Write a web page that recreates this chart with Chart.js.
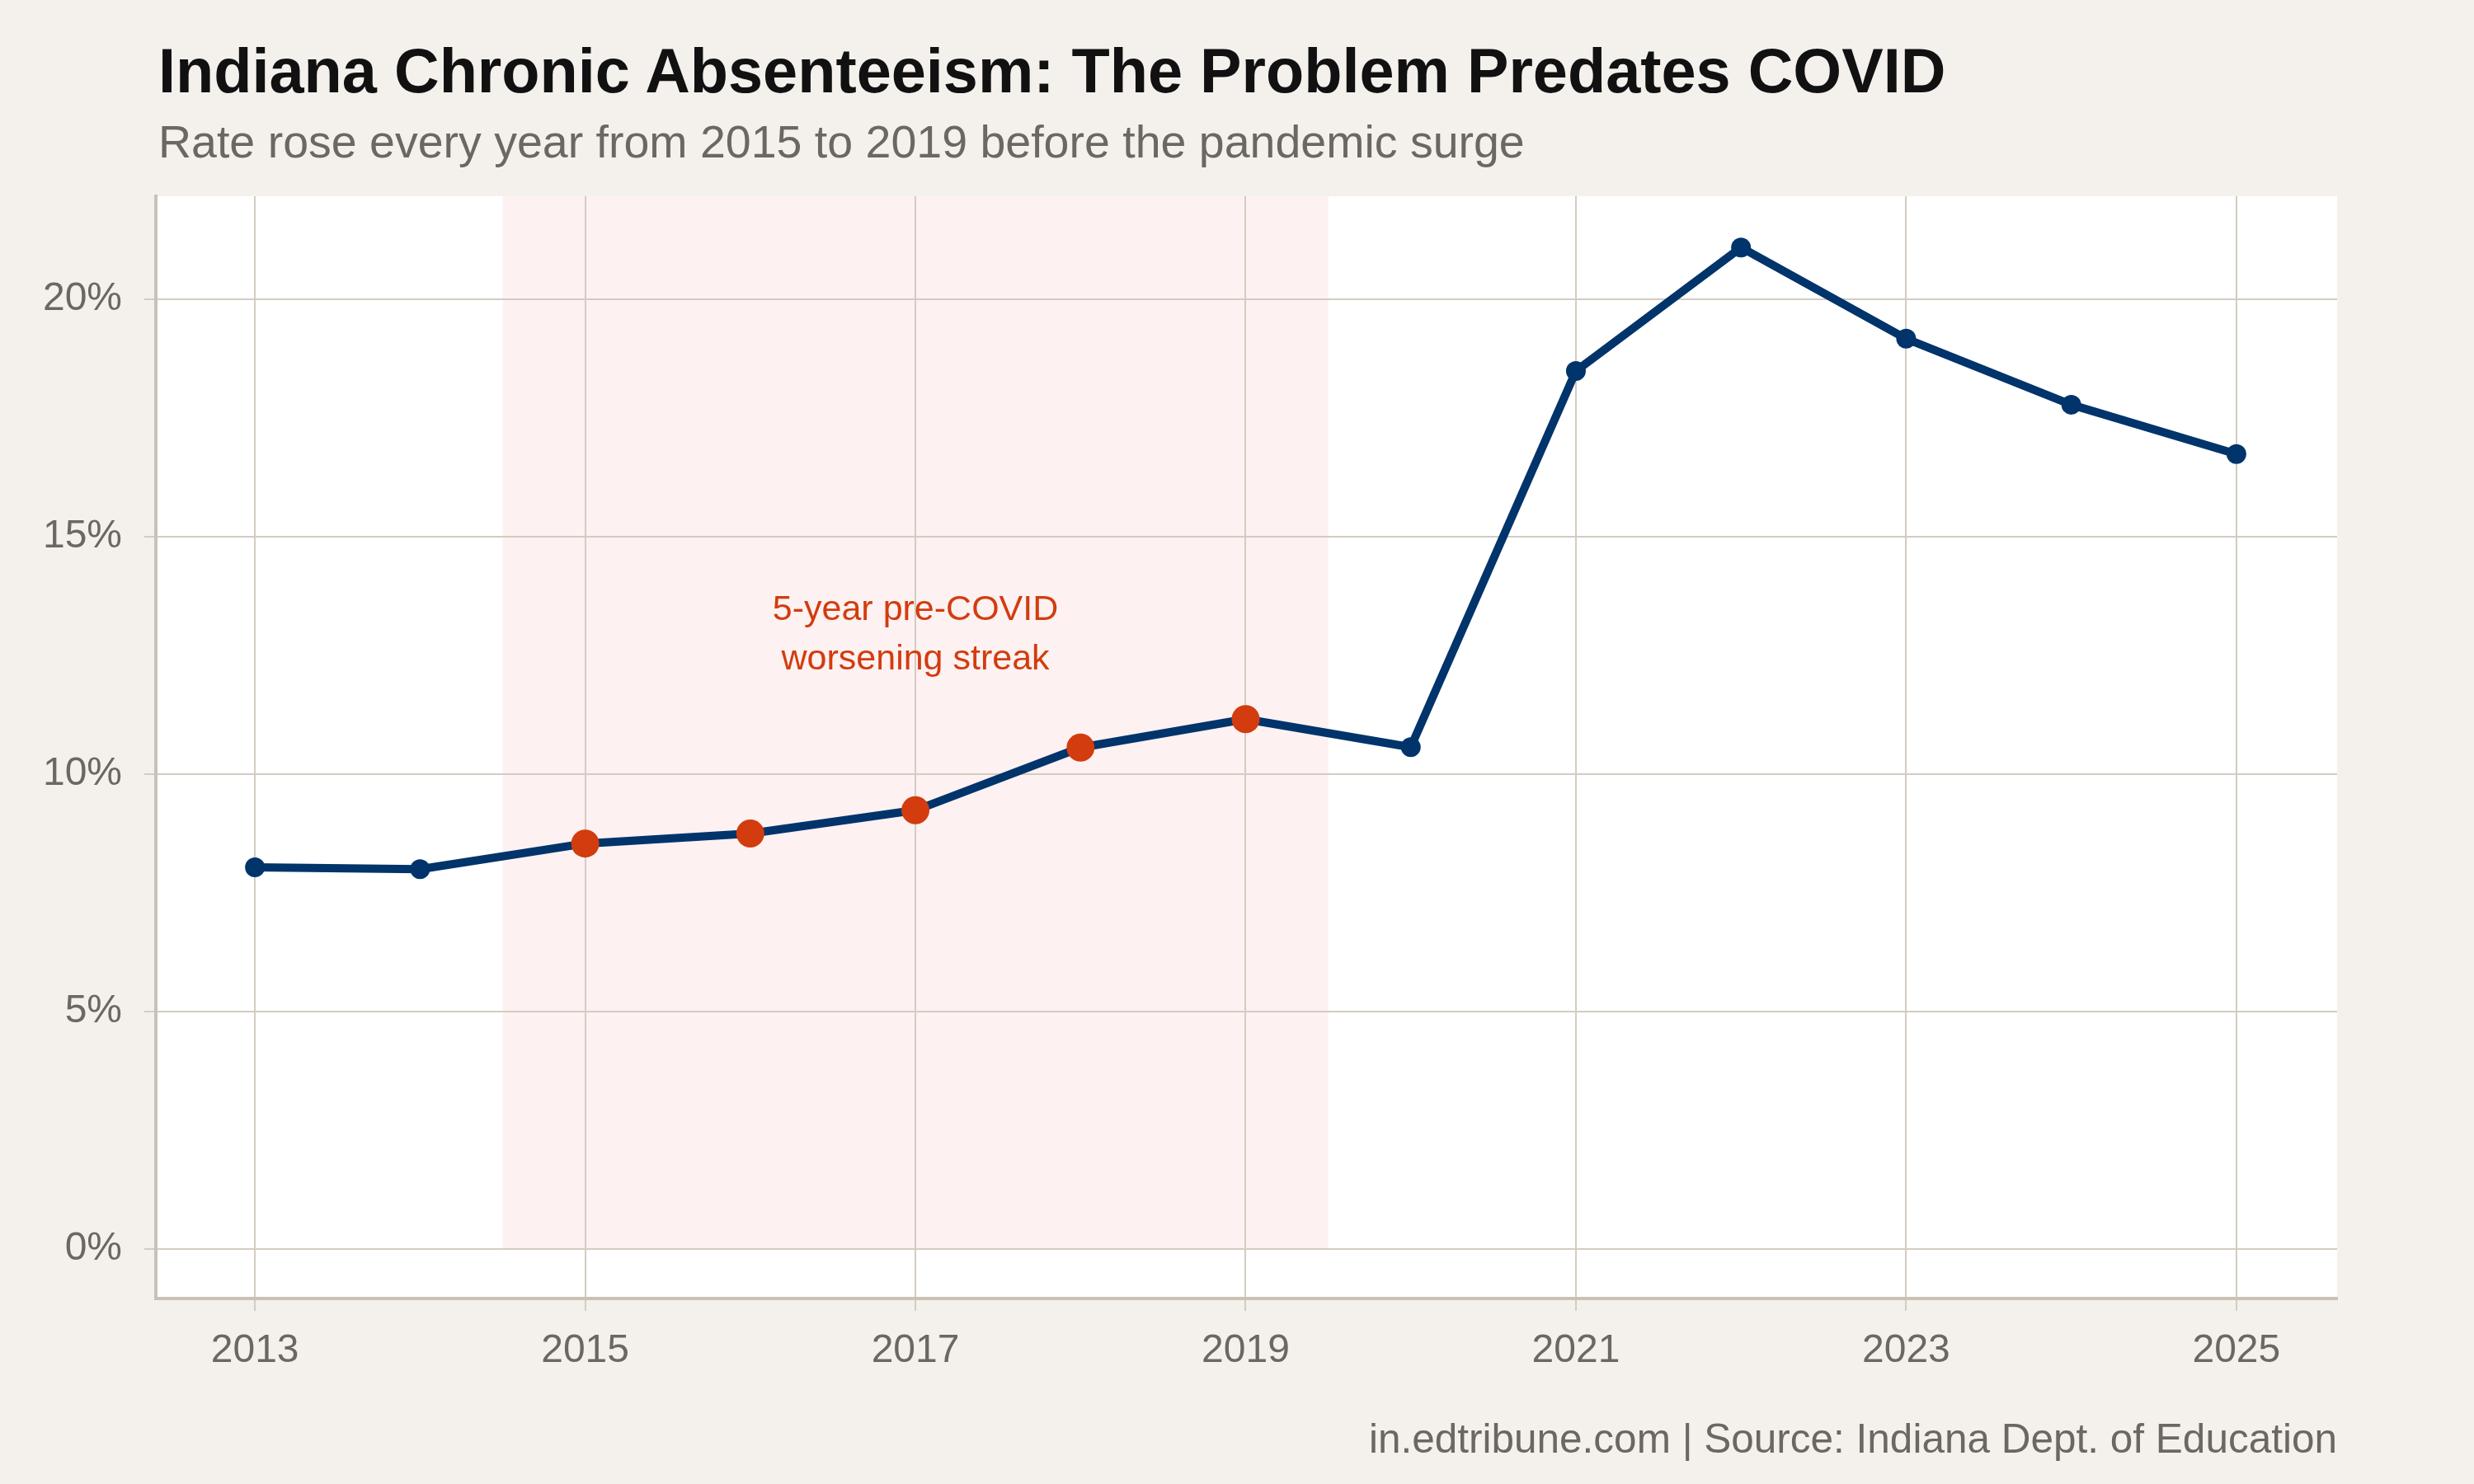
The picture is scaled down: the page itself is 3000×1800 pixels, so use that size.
<!DOCTYPE html>
<html>
<head>
<meta charset="utf-8">
<script src="https://cdn.jsdelivr.net/npm/chart.js@4.4.1/dist/chart.umd.min.js"></script>
<style>
  html, body { margin: 0; padding: 0; background: #f4f1ec; }
  #wrap { position: relative; width: 3000px; height: 1800px; font-family: "Liberation Sans", Arial, sans-serif; }
  #chart { position: absolute; left: 0; top: 0; }
  .title { position: absolute; left: 192px; top: 48px; font-size: 75.7px; line-height: 1; font-weight: bold; color: #111; white-space: nowrap; }
  .subtitle { position: absolute; left: 192px; top: 145px; font-size: 55.5px; line-height: 1; color: #6b6762; white-space: nowrap; }
  .caption { position: absolute; right: 166px; top: 1720px; font-size: 49.5px; line-height: 1; color: #6b6762; white-space: nowrap; }
</style>
</head>
<body>
<div id="wrap">
  <canvas id="chart" width="3000" height="1800"></canvas>
  <div class="title">Indiana Chronic Absenteeism: The Problem Predates COVID</div>
  <div class="subtitle">Rate rose every year from 2015 to 2019 before the pandemic surge</div>
  <div class="caption">in.edtribune.com | Source: Indiana Dept. of Education</div>
</div>
<script>
// chronic absenteeism rate, percent
var years = [2013, 2014, 2015, 2016, 2017, 2018, 2019, 2020, 2021, 2022, 2023, 2024, 2025];
var rates = [8.04, 8.0, 8.54, 8.75, 9.24, 10.56, 11.16, 10.57, 18.49, 21.09, 19.17, 17.78, 16.74];
var streakYears = [2015, 2016, 2017, 2018, 2019];
var xTicks = [2013, 2015, 2017, 2019, 2021, 2023, 2025];
var yTicks = [0, 5, 10, 15, 20];
var noteLines = ["5-year pre-COVID", "worsening streak"];

var navy = '#00346b';
var red = '#d23c0e';
var gridCol = '#d3ccc2';
var textCol = '#6b6762';

var pts = years.map(function(y, i) { return { x: y, y: rates[i] }; });
var inStreak = years.map(function(y) { return streakYears.indexOf(y) >= 0; });

var panelPlugin = {
  id: 'panel',
  beforeDraw: function(chart) {
    var ctx = chart.ctx, a = chart.chartArea;
    var xs = chart.scales.x, ys = chart.scales.y;
    ctx.save();
    ctx.fillStyle = '#ffffff';
    ctx.fillRect(a.left, a.top, a.right - a.left, a.bottom - a.top);
    // shaded streak window
    var x0 = xs.getPixelForValue(streakYears[0] - 0.5);
    var x1 = xs.getPixelForValue(streakYears[streakYears.length - 1] + 0.5);
    var yb = ys.getPixelForValue(0);
    ctx.fillStyle = '#fdf1f1';
    ctx.fillRect(x0, a.top, x1 - x0, yb - a.top);
    ctx.restore();
  },
  afterDatasetsDraw: function(chart) {
    var ctx = chart.ctx;
    var xs = chart.scales.x, ys = chart.scales.y;
    ctx.save();
    ctx.fillStyle = red;
    ctx.font = '43px "Liberation Sans", Arial, sans-serif';
    ctx.textAlign = 'center';
    ctx.textBaseline = 'alphabetic';
    var cx = xs.getPixelForValue(2017);
    ctx.fillText(noteLines[0], cx, ys.getPixelForValue(13.25));
    ctx.fillText(noteLines[1], cx, ys.getPixelForValue(12.2));
    ctx.restore();
  }
};

new Chart(document.getElementById('chart'), {
  type: 'line',
  data: {
    datasets: [{
      data: pts,
      borderColor: navy,
      borderWidth: 10,
      borderJoinStyle: 'round',
      tension: 0,
      pointBackgroundColor: inStreak.map(function(s) { return s ? red : navy; }),
      pointBorderWidth: 0,
      pointRadius: inStreak.map(function(s) { return s ? 17 : 12; }),
      clip: false
    }]
  },
  options: {
    responsive: false,
    animation: false,
    devicePixelRatio: 1,
    layout: { padding: { left: 0, top: 238, right: 166, bottom: 0 } },
    plugins: { legend: { display: false }, tooltip: { enabled: false } },
    scales: {
      x: {
        type: 'linear',
        min: 2012.4,
        max: 2025.61,
        afterFit: function(s) { s.height = 225; },
        afterBuildTicks: function(s) { s.ticks = xTicks.map(function(v) { return { value: v }; }); },
        grid: { color: gridCol, lineWidth: 2, tickLength: 15 },
        border: { display: true, color: '#c9c1b6', width: 4 },
        ticks: {
          color: textCol,
          padding: 20,
          font: { family: '"Liberation Sans", Arial, sans-serif', size: 48 },
          callback: function(v) { return String(v); }
        }
      },
      y: {
        type: 'linear',
        min: -1.04,
        max: 22.17,
        afterFit: function(s) { s.width = 189; },
        afterBuildTicks: function(s) { s.ticks = yTicks.map(function(v) { return { value: v }; }); },
        grid: { color: gridCol, lineWidth: 2, tickLength: 14 },
        border: { display: true, color: '#c9c1b6', width: 4 },
        ticks: {
          color: textCol,
          padding: 27,
          font: { family: '"Liberation Sans", Arial, sans-serif', size: 48 },
          callback: function(v) { return v + '%'; }
        }
      }
    }
  },
  plugins: [panelPlugin]
});
</script>
</body>
</html>
